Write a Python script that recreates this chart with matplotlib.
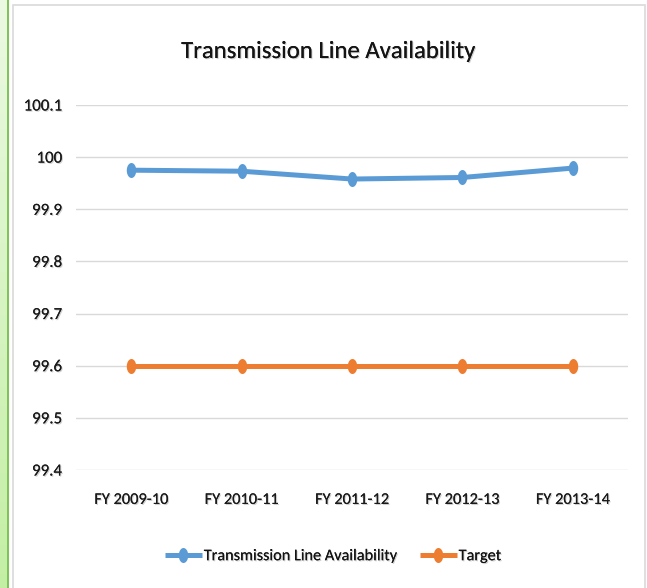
import numpy as np
import matplotlib
matplotlib.use("Agg")
import matplotlib.pyplot as plt
from matplotlib.path import Path
from matplotlib.patches import Rectangle
import matplotlib.patheffects as pe

categories = ["FY 2009-10", "FY 2010-11", "FY 2011-12", "FY 2012-13", "FY 2013-14"]
availability = [99.975, 99.973, 99.958, 99.961, 99.979]
target = [99.6, 99.6, 99.6, 99.6, 99.6]
yticks = [99.4, 99.5, 99.6, 99.7, 99.8, 99.9, 100.0, 100.1]
yticklabels = ["99.4", "99.5", "99.6", "99.7", "99.8", "99.9", "100", "100.1"]
title = "Transmission Line Availability"
series_names = ["Transmission Line Availability", "Target"]

W, H = 647, 588
plt.rcParams['font.family'] = ['Carlito', 'Liberation Sans', 'DejaVu Sans']
fig = plt.figure(figsize=(W / 100, H / 100), dpi=100)

def fx(px):
    return px / W

def fy(py):
    return 1 - py / H

# left green strip with gradient
grad_ax = fig.add_axes([0, 0, fx(8), 1])
grad = np.linspace(0, 1, 256).reshape(-1, 1)
c_top = np.array([0.925, 0.976, 0.890])
c_bot = np.array([0.765, 0.937, 0.643])
img = c_top[None, None, :] * (1 - grad[:, :, None]) + c_bot[None, None, :] * grad[:, :, None]
grad_ax.imshow(img, aspect='auto', extent=[0, 1, 0, 1], origin='upper')
grad_ax.set_axis_off()
fig.add_artist(plt.Line2D([fx(8.3), fx(8.3)], [0, 1], color='#7dc256', lw=1.4,
                          transform=fig.transFigure))

# chart box border
fig.add_artist(Rectangle((fx(13.3), fy(600)), fx(645.5) - fx(13.3), fy(4.5) - fy(600),
                         transform=fig.transFigure, fill=False, edgecolor='#d9d9d9', lw=1.2))

shadow = [pe.withSimplePatchShadow(offset=(0.8, -0.8), shadow_rgbFace='#888888', alpha=0.4), pe.Normal()]

ax = fig.add_axes([fx(76), fy(470), fx(628) - fx(76), fy(105) - fy(470)])
x = np.arange(len(categories))

t = np.linspace(0, 2 * np.pi, 60)
ell = Path(np.column_stack([0.63 * np.cos(t), np.sin(t)]), closed=True)

blue = '#5b9bd5'
orange = '#ed7d31'
ax.plot(x, availability, color=blue, lw=3.6, marker=ell, markersize=10.8,
        markeredgewidth=0, label=series_names[0], solid_capstyle='butt')
ax.plot(x, target, color=orange, lw=3.6, marker=ell, markersize=10.8,
        markeredgewidth=0, label=series_names[1], solid_capstyle='butt')

ax.set_xlim(-0.5, len(categories) - 0.5)
ax.set_ylim(99.4, 100.1)
ax.set_yticks(yticks)
ax.set_yticklabels(yticklabels)
ax.set_xticks(x)
ax.set_xticklabels(categories)
ax.grid(axis='y', color='#d9d9d9', lw=1.0)
ax.set_axisbelow(True)
for s in ax.spines.values():
    s.set_visible(False)
ax.tick_params(axis='both', length=0, labelcolor='#1a1a1a')
ax.tick_params(axis='y', pad=10, labelsize=12.2)
ax.tick_params(axis='x', pad=16.5, labelsize=11.8)
for lab in ax.get_xticklabels() + ax.get_yticklabels():
    lab.set_path_effects(shadow)

fig.text(fx(329), fy(58), title, ha='center', va='baseline', fontsize=17.8,
         color='#141414', path_effects=shadow)

leg = fig.legend(loc='center', bbox_to_anchor=(fx(333), fy(556)), ncol=2, frameon=False,
                 fontsize=11.7, handlelength=2.3, handletextpad=0.1, columnspacing=1.4,
                 borderaxespad=0, borderpad=0)
for txt in leg.get_texts():
    txt.set_color('#141414')
    txt.set_path_effects(shadow)

fig.savefig('out.png', dpi=100)
